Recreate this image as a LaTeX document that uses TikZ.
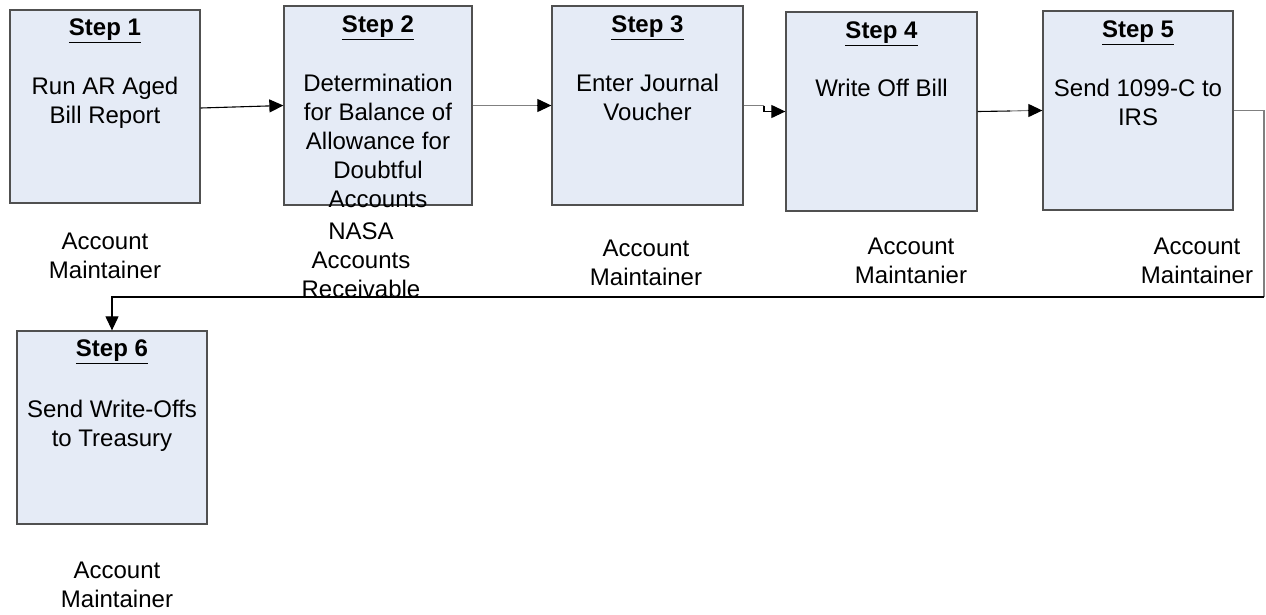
\documentclass[tikz,border=0pt]{standalone}
\usepackage{fontspec}
\setmainfont{Liberation Sans}
\usetikzlibrary{arrows.meta,calc}

\definecolor{boxfill}{HTML}{E5EBF6}
\definecolor{boxline}{HTML}{505050}
\definecolor{linkgray}{HTML}{808080}

% multi-line texts are placed by the baseline of their last line
\tikzset{
  stepbox/.style={draw=boxline, fill=boxfill, line width=1.3pt, inner sep=0pt},
  steptitle/.style={anchor=base, inner sep=0pt,
    font=\fontsize{24}{29}\selectfont\bfseries},
  steptext/.style={anchor=base, inner sep=0pt, align=center,
    font=\fontsize{24}{29}\selectfont},
  role/.style={anchor=base, inner sep=0pt, align=center,
    font=\fontsize{24}{28.8}\selectfont},
  link/.style={line width=1.1pt, black},
  linkg/.style={line width=1.1pt, linkgray},
  tip/.style={-{Triangle[length=14pt,width=13pt]}}
}

\begin{document}
\begin{tikzpicture}[x=1pt,y=-1pt]
\useasboundingbox (0,0) rectangle (1266,614);

% process boxes
\node[stepbox, minimum width=190pt, minimum height=193pt] (b1) at (105,106.5) {};
\node[stepbox, minimum width=188pt, minimum height=199pt] (b2) at (378,105.5) {};
\node[stepbox, minimum width=191pt, minimum height=199pt] (b3) at (647.5,105.5) {};
\node[stepbox, minimum width=191pt, minimum height=199pt] (b4) at (881.5,111.5) {};
\node[stepbox, minimum width=190pt, minimum height=199pt] (b5) at (1138,110.5) {};
\node[stepbox, minimum width=190pt, minimum height=193pt] (b6) at (112,427.5) {};

% titles
\node[steptitle] (t1) at ([yshift=-26pt]b1.north) {\underline{Step 1}};
\node[steptitle] (t2) at ([yshift=-27pt]b2.north) {\underline{Step 2}};
\node[steptitle] (t3) at ([yshift=-27pt]b3.north) {\underline{Step 3}};
\node[steptitle] (t4) at ([yshift=-27pt]b4.north) {\underline{Step 4}};
\node[steptitle] (t5) at ([yshift=-27pt]b5.north) {\underline{Step 5}};
\node[steptitle] (t6) at ([yshift=-26pt]b6.north) {\underline{Step 6}};

% descriptions
\node[steptext] (d1) at ([yshift=-114pt]b1.north) {Run AR Aged\\Bill Report};
\node[steptext] (d2) at ([yshift=-202pt]b2.north) {Determination\\for Balance of\\Allowance for\\Doubtful\\Accounts};
\node[steptext] (d3) at ([yshift=-115pt]b3.north) {Enter Journal\\Voucher};
\node[steptext] (d4) at ([yshift=-85pt]b4.north) {Write Off Bill};
\node[steptext] (d5) at ([yshift=-115pt]b5.north) {Send 1099-C to\\IRS};
\node[steptext] (d6) at ([yshift=-116pt]b6.north) {Send Write-Offs\\to Treasury};

% responsible parties
\node[role] (r1) at (105,278) {Account\\Maintainer};
\node[role] (r2) at (361,297) {NASA\\Accounts\\Receivable};
\node[role] (r3) at (646,285) {Account\\Maintainer};
\node[role] (r4) at (911,283) {Account\\Maintanier};
\node[role] (r5) at (1197,283) {Account\\Maintainer};
\node[role] (r6) at (117,607) {Account\\Maintainer};

% connectors
\coordinate (j3) at (764,105.5);
\coordinate (m4) at (1010,111);
\coordinate (c1) at (1264,110.5);
\coordinate (c2) at (1264,297);

\draw[link, tip] ([yshift=-1.5pt]b1.east) -- (b2.west);
\draw[linkg] (b2.east) -- ([xshift=-14pt]b3.west);
\draw[link, tip] ([xshift=-14pt]b3.west) -- (b3.west);
\draw[linkg] (b3.east) -- (j3);
\draw[link, tip] (j3) |- (b4.west);
\draw[link] (b4.east) -- (m4);
\draw[linkg] (m4) -- ([xshift=-14pt]b5.west);
\draw[link, tip] ([xshift=-14pt]b5.west) -- (b5.west);
\draw[linkg] (b5.east) -- (c1) -- (c2);
\draw[link, tip] (c2) -| (b6.north);
\end{tikzpicture}
\end{document}
